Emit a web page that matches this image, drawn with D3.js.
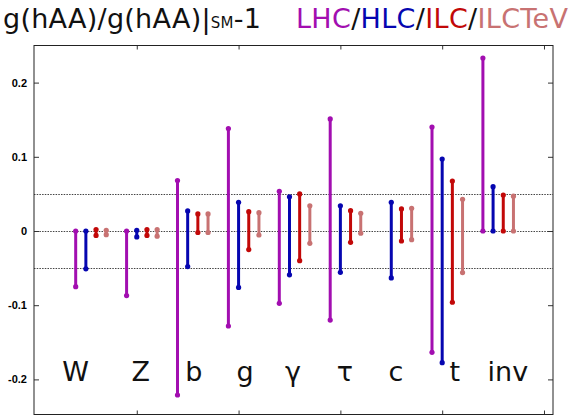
<!DOCTYPE html>
<html><head><meta charset="utf-8">
<script src="https://cdn.jsdelivr.net/npm/d3@7"></script>
<style>body{margin:0;background:#fff}svg{display:block}</style>
</head><body><svg id="c" width="577" height="416"></svg>
<script>
// ---- data ----
const categories = ["W", "Z", "b", "g", "γ", "τ", "c", "t", "inv"];
const labelPos   = [0, 1.28, 2.32, 3.33, 4.27, 5.29, 6.29, 7.45, 8.49];
const series     = ["LHC", "HLC", "ILC", "ILCTeV"];
const lhcHigh    = [0, 0, 0.068, 0.138, 0.0535, 0.151, null, 0.140, 0.233];
const lhcLow     = [-0.075, -0.087, -0.221, -0.128, -0.0975, -0.120, null, -0.1635, 0];
const hlcHigh    = [0, 0.001, 0.027, 0.0386, 0.046, 0.034, 0.0386, 0.097, 0.0597];
const hlcLow     = [-0.051, -0.008, -0.048, -0.076, -0.059, -0.0557, -0.0633, -0.1775, 0];
const ilcHigh    = [0.002, 0.002, 0.023, 0.026, 0.050, 0.0274, 0.0297, 0.0674, 0.0485];
const ilcLow     = [-0.006, -0.006, -0.002, -0.025, -0.040, -0.0153, -0.0135, -0.096, 0];
const tevHigh    = [0.001, 0.002, 0.023, 0.0247, 0.034, 0.0238, 0.0306, 0.0427, 0.047];
const tevLow     = [-0.005, -0.007, -0.002, -0.0054, -0.0166, -0.003, -0.0117, -0.056, 0];
const yTicks     = [-0.2, -0.1, 0, 0.1, 0.2];
const yTickLabels= ["-0.2", "-0.1", "0", "0.1", "0.2"];
const xTicks     = [1.2, 3.2, 5.2, 7.2, 9.2];
const refLines   = [-0.05, 0, 0.05];

const highs = [lhcHigh, hlcHigh, ilcHigh, tevHigh];
const lows  = [lhcLow, hlcLow, ilcLow, tevLow];
const colors = ["#a20eb0", "#0606b0", "#c20808", "#c87272"];
const seriesStep = 0.2;

// ---- layout ----
const svg = d3.select("#c");
const L = 34, R = 553, T = 45.5, B = 414.5;
const x = d3.scaleLinear().domain([-0.819, 9.377]).range([L, R]);
const y = d3.scaleLinear().domain([-0.25, 0.25]).range([416.5, 45.5]);

// reference dotted lines
svg.append("g").selectAll("line").data(refLines).join("line")
  .attr("x1", L).attr("x2", R)
  .attr("y1", d => Math.round(y(d)) + 0.5).attr("y2", d => Math.round(y(d)) + 0.5)
  .attr("stroke", "#444").attr("stroke-width", 1).attr("stroke-dasharray", "1.5,1.2");

// axes
const noLabel = () => "";
svg.append("g").attr("transform", `translate(${L},0)`)
  .call(d3.axisLeft(y).tickValues(yTicks).tickSizeInner(-5).tickSizeOuter(0).tickPadding(7)
    .tickFormat((d, i) => yTickLabels[i]))
  .call(g => g.select(".domain").remove())
  .call(g => g.selectAll("text").attr("font-family", "Liberation Sans, Arial, sans-serif")
    .attr("font-weight", "bold").attr("font-size", 11).attr("fill", "#000"));
svg.append("g").attr("transform", `translate(${R},0)`)
  .call(d3.axisRight(y).tickValues(yTicks).tickSizeInner(-5).tickSizeOuter(0).tickFormat(noLabel))
  .call(g => g.select(".domain").remove());
svg.append("g").attr("transform", `translate(0,${T})`)
  .call(d3.axisTop(x).tickValues(xTicks).tickSizeInner(-4).tickSizeOuter(0).tickFormat(noLabel))
  .call(g => g.select(".domain").remove());
svg.append("g").attr("transform", `translate(0,${B})`)
  .call(d3.axisBottom(x).tickValues(xTicks).tickSizeInner(-4).tickSizeOuter(0).tickFormat(noLabel))
  .call(g => g.select(".domain").remove());
svg.selectAll(".tick line").attr("stroke", "#333");

// frame
svg.append("rect").attr("x", L).attr("y", T).attr("width", R - L).attr("height", B - T)
  .attr("fill", "none").attr("stroke", "#222").attr("stroke-width", 1);

// bars
const bars = [];
series.forEach((s, j) => {
  categories.forEach((c, i) => {
    const hi = highs[j][i], lo = lows[j][i];
    if (hi === null || lo === null) return;
    bars.push({ s: j, p: i + j * seriesStep, hi, lo });
  });
});
const bg = svg.append("g");
bg.selectAll("line").data(bars).join("line")
  .attr("x1", d => x(d.p)).attr("x2", d => x(d.p))
  .attr("y1", d => y(d.hi)).attr("y2", d => y(d.lo))
  .attr("stroke", d => colors[d.s]).attr("stroke-width", 3);
bg.selectAll("circle.hi").data(bars).join("circle").attr("class", "hi")
  .attr("cx", d => x(d.p)).attr("cy", d => y(d.hi)).attr("r", 2.6).attr("fill", d => colors[d.s]);
bg.selectAll("circle.lo").data(bars).join("circle").attr("class", "lo")
  .attr("cx", d => x(d.p)).attr("cy", d => y(d.lo)).attr("r", 2.6).attr("fill", d => colors[d.s]);

// category labels
svg.append("g").selectAll("text").data(categories).join("text")
  .attr("x", (d, i) => x(labelPos[i])).attr("y", 381)
  .attr("text-anchor", "middle")
  .attr("font-family", "DejaVu Sans, sans-serif").attr("font-size", 27).attr("fill", "#111")
  .text(d => d);

// title
const title = svg.append("text").attr("x", 3).attr("y", 28)
  .attr("font-family", "DejaVu Sans, sans-serif").attr("font-size", 27).attr("fill", "#111")
  .attr("textLength", 258).attr("lengthAdjust", "spacing");
title.append("tspan").text("g(hAA)/g(hAA)|");
title.append("tspan").attr("font-size", 15).text("SM");
title.append("tspan").text("-1");

const legend = svg.append("text").attr("x", 296).attr("y", 28)
  .attr("font-family", "DejaVu Sans, sans-serif").attr("font-size", 27)
  .attr("textLength", 272).attr("lengthAdjust", "spacing");
series.forEach((s, j) => {
  if (j > 0) legend.append("tspan").attr("fill", "#111").text("/");
  legend.append("tspan").attr("fill", colors[j]).text(s);
});
</script></body></html>
